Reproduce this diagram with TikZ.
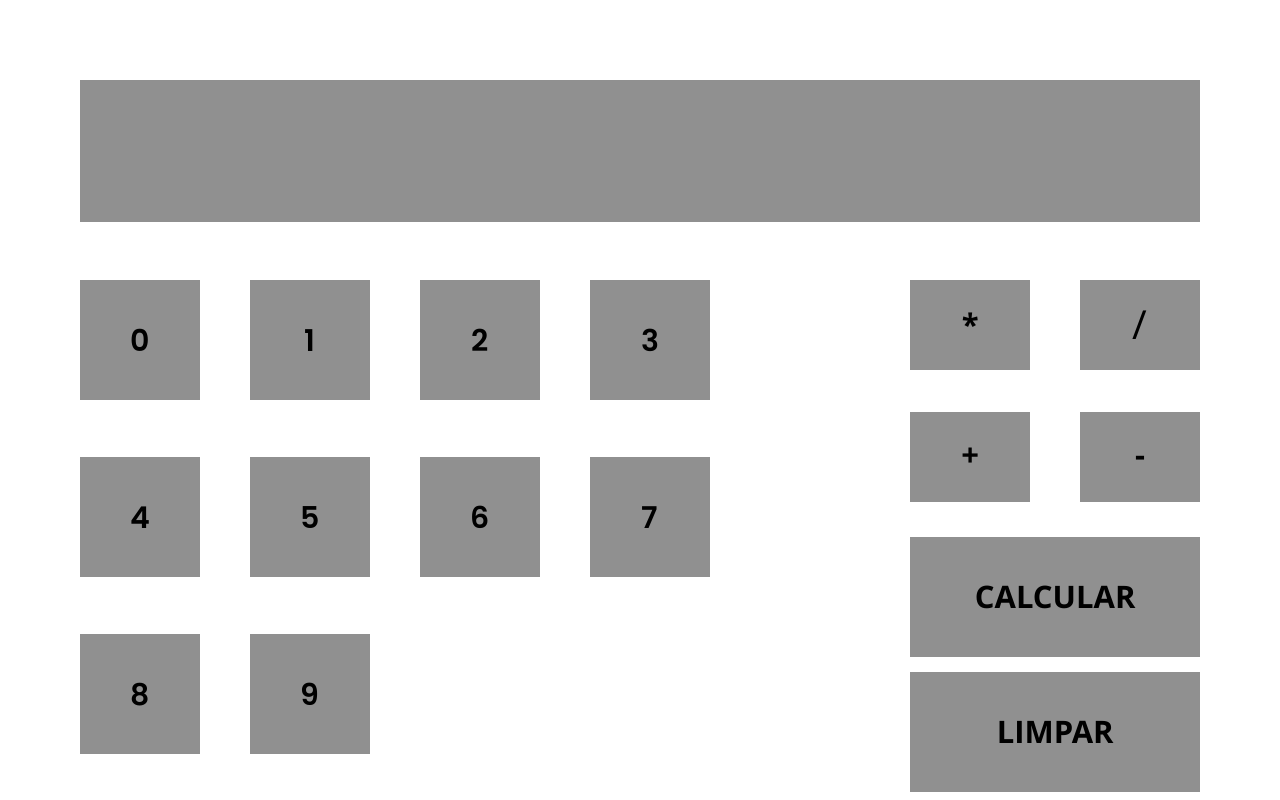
\documentclass[tikz,border=0pt]{standalone}
\usepackage{fontspec}
\setmainfont{Open Sans}
\newfontfamily\digitfont{Poppins SemiBold}
\usepackage{tikz}
\definecolor{keygray}{HTML}{909090}
\newcommand{\keyFontSize}[0]{\fontsize{31}{31}\selectfont}

\begin{document}
\begin{tikzpicture}[x=1pt, y=-1pt]
  \tikzset{key/.style={fill=keygray, draw=none, anchor=north west, inner sep=0pt, align=center, font=\bfseries\keyFontSize},
           digit/.style={key, minimum width=120pt, minimum height=120pt, font=\digitfont\fontsize{30}{30}\selectfont},
           op/.style={key, minimum width=120pt, minimum height=90pt},
           wide/.style={key, minimum width=290pt, minimum height=120pt, font=\bfseries\fontsize{31}{31}\selectfont}}
  \useasboundingbox (0,0) rectangle (1280,800);
  % display
  \node[key, minimum width=1120pt, minimum height=142pt] (display) at (80,80) {};
  % digits
  \node[digit] (key-0) at (80,280) {0};
  \node[digit] (key-1) at (250,280) {1};
  \node[digit] (key-2) at (420,280) {2};
  \node[digit] (key-3) at (590,280) {3};
  \node[digit] (key-4) at (80,457) {4};
  \node[digit] (key-5) at (250,457) {5};
  \node[digit] (key-6) at (420,457) {6};
  \node[digit] (key-7) at (590,457) {7};
  \node[digit] (key-8) at (80,634) {8};
  \node[digit] (key-9) at (250,634) {9};
  % operators
  \node[op] (op-mul) at (910,280) {*};
  \node[op, font=\mdseries\fontsize{40}{40}\selectfont] (op-div) at (1080,280) {/};
  \node[op] (op-add) at (910,412) {+};
  \node[op] (op-sub) at (1080,412) {\vphantom{+}-};
  \node[wide] (calc) at (910,537) {CALCULAR};
  \node[wide] (clear) at (910,672) {LIMPAR};
\end{tikzpicture}
\end{document}
